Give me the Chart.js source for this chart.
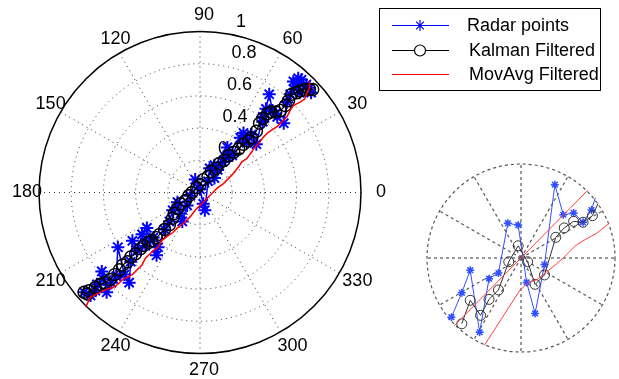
<!DOCTYPE html>
<html>
<head>
<meta charset="utf-8">
<script src="https://cdn.jsdelivr.net/npm/chart.js@4.4.0/dist/chart.umd.min.js"></script>
<style>
html, body { margin: 0; padding: 0; background: #fff; }
#wrap { position: relative; width: 619px; height: 379px; }
#mainChart { position: absolute; left: 0; top: 0; }
#zoomChart { position: absolute; left: 421px; top: 158px; }
</style>
</head>
<body>
<div id="wrap">
<canvas id="mainChart" width="619" height="379"></canvas>
<canvas id="zoomChart" width="200" height="200"></canvas>
</div>
<script>
// main polar plot, x/y in units of the outer radius (1)
var radarX = [-0.72, -0.68, -0.65, -0.64, -0.60, -0.61, -0.58, -0.55, -0.52, -0.51, -0.47, -0.44, -0.43, -0.42, -0.39, -0.36, -0.34, -0.33, -0.31, -0.29,
              -0.27, -0.26, -0.22, -0.19, -0.17, -0.14, -0.12, -0.11, -0.08, -0.06, -0.03, 0.00, 0.02, 0.03, 0.05, 0.06, 0.09, 0.09, 0.11, 0.14,
              0.16, 0.17, 0.20, 0.25, 0.27, 0.29, 0.32, 0.35, 0.39, 0.39, 0.41, 0.43, 0.45, 0.47, 0.48, 0.52, 0.54, 0.56, 0.58, 0.61,
              0.60, 0.63, 0.62, 0.66, 0.68, 0.69];
var radarY = [-0.62, -0.64, -0.61, -0.57, -0.54, -0.49, -0.62, -0.56, -0.52, -0.34, -0.51, -0.56, -0.43, -0.30, -0.36, -0.26, -0.33, -0.22, -0.30, -0.28,
              -0.39, -0.34, -0.23, -0.18, -0.11, -0.06, -0.13, -0.18, -0.08, -0.02, 0.08, 0.02, -0.07, -0.11, 0.07, 0.15, 0.09, 0.17, 0.14, 0.19,
              0.22, 0.28, 0.23, 0.34, 0.37, 0.31, 0.36, 0.30, 0.47, 0.44, 0.52, 0.61, 0.51, 0.49, 0.47, 0.43, 0.56, 0.61, 0.69, 0.71,
              0.66, 0.70, 0.62, 0.67, 0.65, 0.62];

var kalmanX = [-0.72, -0.70, -0.69, -0.65, -0.62, -0.59, -0.56, -0.53, -0.50, -0.48, -0.45, -0.43, -0.40, -0.37, -0.35, -0.32, -0.30, -0.27, -0.25, -0.22,
               -0.19, -0.17, -0.16, -0.14, -0.12, -0.09, -0.07, -0.05, -0.02, 0.00, 0.02, 0.05, 0.07, 0.10, 0.12, 0.15, 0.18, 0.21, 0.24, 0.27,
               0.30, 0.32, 0.35, 0.37, 0.39, 0.42, 0.44, 0.47, 0.50, 0.53, 0.55, 0.57, 0.60, 0.62, 0.65, 0.68, 0.70];
var kalmanY = [-0.62, -0.63, -0.61, -0.59, -0.57, -0.56, -0.54, -0.51, -0.48, -0.45, -0.43, -0.40, -0.38, -0.35, -0.33, -0.31, -0.30, -0.28, -0.26, -0.23,
               -0.20, -0.16, -0.13, -0.10, -0.07, -0.05, -0.02, 0.00, 0.03, 0.05, 0.08, 0.10, 0.13, 0.15, 0.18, 0.20, 0.23, 0.25, 0.27, 0.30,
               0.32, 0.34, 0.38, 0.43, 0.46, 0.49, 0.50, 0.50, 0.51, 0.54, 0.57, 0.61, 0.62, 0.63, 0.64, 0.64, 0.64];

var movAvgX = [-0.71, -0.68, -0.62, -0.58, -0.54, -0.51, -0.48, -0.42, -0.39, -0.36, -0.34, -0.31, -0.29, -0.26, -0.24, -0.20, -0.17, -0.14, -0.09, -0.06,
               -0.03, 0.00, 0.03, 0.06, 0.08, 0.11, 0.14, 0.17, 0.20, 0.24, 0.26, 0.29, 0.32, 0.34, 0.37, 0.39, 0.42, 0.45, 0.48, 0.50,
               0.52, 0.54, 0.56, 0.58, 0.60, 0.62, 0.65, 0.66, 0.68, 0.68];
var movAvgY = [-0.71, -0.65, -0.62, -0.60, -0.59, -0.57, -0.54, -0.51, -0.48, -0.45, -0.41, -0.38, -0.36, -0.34, -0.30, -0.27, -0.25, -0.22, -0.18, -0.15,
               -0.11, -0.08, -0.05, -0.02, 0.00, 0.03, 0.05, 0.08, 0.11, 0.16, 0.19, 0.21, 0.25, 0.28, 0.31, 0.34, 0.37, 0.39, 0.41, 0.43,
               0.45, 0.47, 0.51, 0.54, 0.55, 0.56, 0.58, 0.61, 0.65, 0.69];

// zoomed inset, x/y in units of the inset circle radius
var zoomRadarX = [-0.74, -0.63, -0.54, -0.44, -0.34, -0.24, -0.14, -0.03, 0.06, 0.15, 0.25, 0.36, 0.45, 0.56, 0.66, 0.75, 0.79];
var zoomRadarY = [-0.63, -0.37, -0.13, -0.79, -0.22, -0.16, 0.37, 0.35, -0.26, -0.59, -0.07, 0.78, 0.46, 0.48, 0.38, 0.51, 0.64];
var zoomKalmanX = [-0.63, -0.54, -0.43, -0.34, -0.24, -0.13, -0.03, 0.07, 0.15, 0.25, 0.37, 0.46, 0.56, 0.66, 0.76, 0.82];
var zoomKalmanY = [-0.70, -0.45, -0.61, -0.44, -0.34, -0.04, 0.13, -0.04, -0.28, -0.18, 0.22, 0.32, 0.39, 0.38, 0.45, 0.58];
var zoomMovAvgX = [-0.39, -0.01, 0.08, 0.17, 0.27, 0.38, 0.46, 0.53, 0.59, 0.69, 0.80, 0.94];
var zoomMovAvgY = [-0.93, -0.34, -0.26, -0.23, -0.15, -0.06, 0.01, 0.08, 0.14, 0.20, 0.26, 0.37];
var zoomTrendX = [-0.71, 0.71];
var zoomTrendY = [-0.72, 0.72];

var angleTicks = [0, 30, 60, 90, 120, 150, 180, 210, 240, 270, 300, 330];
var radiusTicks = [0.2, 0.4, 0.6, 0.8, 1];

var FONT = '18px "Liberation Sans", Arial, sans-serif';

function toPoints(xs, ys) {
    return xs.map(function (x, i) { return { x: x, y: ys[i] }; });
}

function center(chart) {
    var sx = chart.scales.x, sy = chart.scales.y;
    var cx = sx.getPixelForValue(0), cy = sy.getPixelForValue(0);
    return { cx: cx, cy: cy, R: sx.getPixelForValue(1) - cx };
}

var polarGrid = {
    id: 'polarGrid',
    beforeDatasetsDraw: function (chart) {
        var ctx = chart.ctx, c = center(chart);
        ctx.save();
        ctx.strokeStyle = '#333';
        ctx.lineWidth = 1;
        ctx.setLineDash([1, 4]);
        radiusTicks.slice(0, -1).forEach(function (r) {
            ctx.beginPath();
            ctx.arc(c.cx, c.cy, r * c.R, 0, 2 * Math.PI);
            ctx.stroke();
        });
        angleTicks.forEach(function (a) {
            var t = a * Math.PI / 180;
            ctx.beginPath();
            ctx.moveTo(c.cx, c.cy);
            ctx.lineTo(c.cx + c.R * Math.cos(t), c.cy - c.R * Math.sin(t));
            ctx.stroke();
        });
        ctx.setLineDash([]);
        ctx.strokeStyle = '#000';
        ctx.lineWidth = 1.5;
        ctx.beginPath();
        ctx.arc(c.cx, c.cy, c.R, 0, 2 * Math.PI);
        ctx.stroke();

        ctx.fillStyle = '#000';
        ctx.font = FONT;
        ctx.textAlign = 'center';
        ctx.textBaseline = 'middle';
        angleTicks.forEach(function (a) {
            var t = a * Math.PI / 180;
            ctx.fillText(String(a), c.cx + 1.1 * c.R * Math.cos(t) + 4, c.cy - 1.1 * c.R * Math.sin(t));
        });
        ctx.textAlign = 'left';
        var t82 = 82 * Math.PI / 180;
        radiusTicks.forEach(function (r) {
            ctx.fillText(String(r), c.cx + r * c.R * Math.cos(t82) + 13.5, c.cy - r * c.R * Math.sin(t82) - 11.5);
        });
        ctx.restore();
    }
};

var boxLegend = {
    id: 'boxLegend',
    afterDraw: function (chart) {
        var ctx = chart.ctx;
        var rows = [25.5, 50.5, 74.5];
        ctx.save();
        ctx.font = FONT;
        ctx.textBaseline = 'middle';
        ctx.textAlign = 'left';
        chart.data.datasets.forEach(function (ds, i) {
            var y = rows[i];
            ctx.strokeStyle = ds.borderColor;
            ctx.lineWidth = 1;
            ctx.beginPath();
            ctx.moveTo(392, y);
            ctx.lineTo(449, y);
            ctx.stroke();
            if (ds.pointRadius > 0) {
                ctx.fillStyle = '#fff';
                ctx.strokeStyle = ds.borderColor;
                ctx.lineWidth = 1.2;
                Chart.helpers.drawPoint(ctx, {
                    pointStyle: ds.pointStyle, rotation: 0,
                    radius: 5.5, borderWidth: 1.2
                }, 420, y);
            }
            ctx.fillStyle = '#000';
            ctx.fillText(ds.label, i === 0 ? 467 : 469, y + 0.5);
        });
        ctx.strokeStyle = '#000';
        ctx.lineWidth = 1;
        ctx.strokeRect(379.5, 8.5, 221, 82);
        ctx.restore();
    }
};

var zoomGrid = {
    id: 'zoomGrid',
    beforeDatasetsDraw: function (chart) {
        var ctx = chart.ctx, c = center(chart);
        ctx.save();
        ctx.strokeStyle = '#555';
        ctx.lineWidth = 1.2;
        ctx.setLineDash([3, 3]);
        ctx.beginPath();
        ctx.arc(c.cx, c.cy, c.R, 0, 2 * Math.PI);
        ctx.stroke();
        angleTicks.forEach(function (a) {
            var t = a * Math.PI / 180;
            ctx.beginPath();
            ctx.moveTo(c.cx, c.cy);
            ctx.lineTo(c.cx + c.R * Math.cos(t), c.cy - c.R * Math.sin(t));
            ctx.stroke();
        });
        ctx.restore();
    }
};

var hiddenScales = {
    x: { type: 'linear', min: -1, max: 1, display: false },
    y: { type: 'linear', min: -1, max: 1, display: false }
};

new Chart(document.getElementById('mainChart'), {
    type: 'scatter',
    data: {
        datasets: [
            {
                label: 'Radar points',
                data: toPoints(radarX, radarY),
                showLine: true,
                borderColor: '#0000ff',
                backgroundColor: '#0000ff',
                borderWidth: 1.5,
                pointStyle: 'star',
                pointRadius: 6.5,
                pointBorderWidth: 2,
                clip: false,
                order: 3
            },
            {
                label: 'Kalman Filtered',
                data: toPoints(kalmanX, kalmanY),
                showLine: true,
                borderColor: '#000000',
                backgroundColor: 'rgba(0,0,0,0)',
                borderWidth: 1.2,
                pointStyle: 'circle',
                pointRadius: 6,
                pointBorderWidth: 1.4,
                clip: false,
                order: 2
            },
            {
                label: 'MovAvg Filtered',
                data: toPoints(movAvgX, movAvgY),
                showLine: true,
                borderColor: '#ff0000',
                borderWidth: 1.5,
                pointRadius: 0,
                clip: false,
                order: 1
            }
        ]
    },
    options: {
        responsive: false,
        animation: false,
        layout: { padding: { left: 39, right: 258, top: 31.5, bottom: 25.5 } },
        plugins: { legend: { display: false }, tooltip: { enabled: false } },
        scales: hiddenScales
    },
    plugins: [polarGrid, boxLegend]
});

function endless(xs, r) {
    return xs.map(function (_, i) { return i < xs.length - 1 ? r : 0; });
}

new Chart(document.getElementById('zoomChart'), {
    type: 'scatter',
    data: {
        datasets: [
            {
                data: toPoints(zoomRadarX, zoomRadarY),
                showLine: true,
                borderColor: '#3050ff',
                backgroundColor: '#3050ff',
                borderWidth: 1,
                pointStyle: 'star',
                pointRadius: endless(zoomRadarX, 4),
                pointBorderWidth: 1.5,
                clip: false,
                order: 3
            },
            {
                data: toPoints(zoomKalmanX, zoomKalmanY),
                showLine: true,
                borderColor: '#333333',
                backgroundColor: 'rgba(0,0,0,0)',
                borderWidth: 1,
                pointStyle: 'circle',
                pointRadius: endless(zoomKalmanX, 5),
                pointBorderWidth: 1,
                clip: false,
                order: 2
            },
            {
                data: toPoints(zoomMovAvgX, zoomMovAvgY),
                showLine: true,
                borderColor: '#ff4040',
                borderWidth: 1,
                pointRadius: 0,
                clip: false,
                order: 1
            },
            {
                data: toPoints(zoomTrendX, zoomTrendY),
                showLine: true,
                borderColor: '#ff4040',
                borderWidth: 1,
                pointRadius: 0,
                clip: false,
                order: 1
            }
        ]
    },
    options: {
        responsive: false,
        animation: false,
        layout: { padding: 5 },
        plugins: { legend: { display: false }, tooltip: { enabled: false } },
        scales: hiddenScales
    },
    plugins: [zoomGrid]
});
</script>
</body>
</html>
